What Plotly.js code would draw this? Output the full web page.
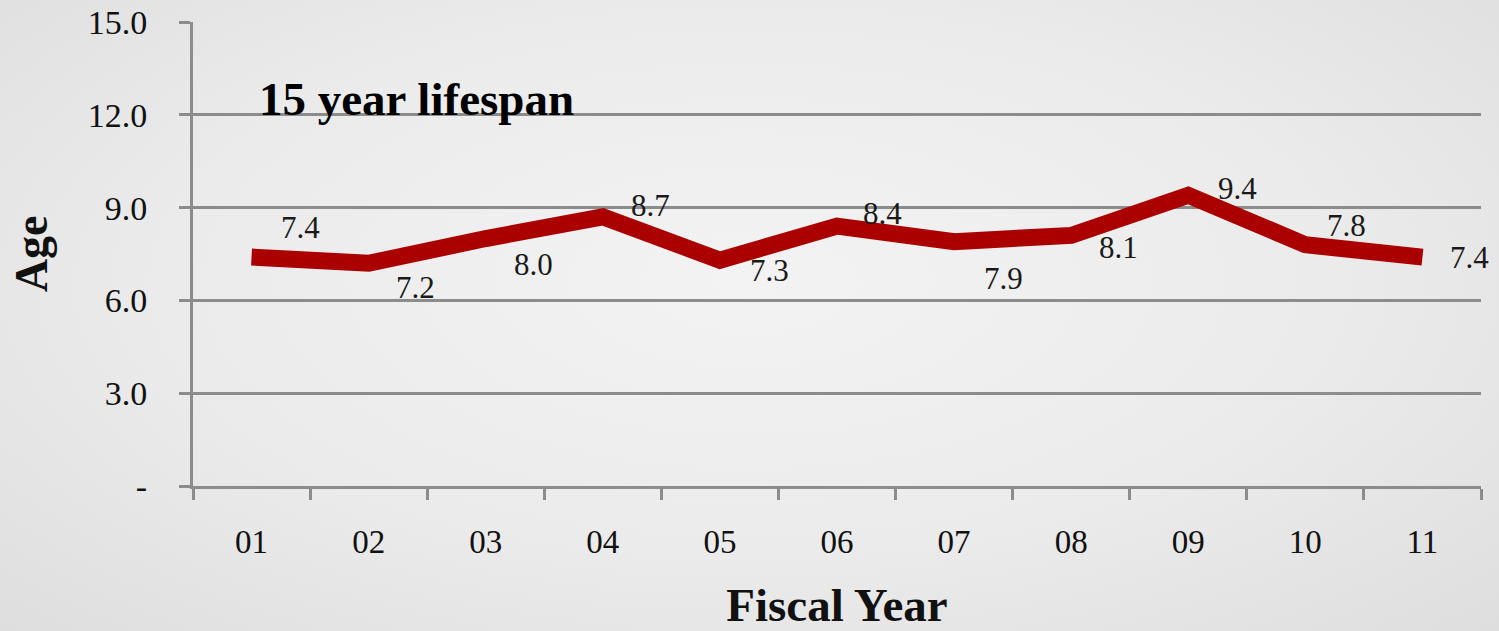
<!DOCTYPE html>
<html>
<head>
<meta charset="utf-8">
<script src="https://cdn.plot.ly/plotly-3.0.1.min.js"></script>
<style>
  html, body { margin: 0; padding: 0; width: 1499px; height: 631px; overflow: hidden;
    background: radial-gradient(ellipse at 50% 45%, #f3f3f3 0%, #ebebeb 55%, #dedede 100%); }
  #chart { width: 1499px; height: 631px; }
</style>
</head>
<body>
<div id="chart"></div>
<script>
const fiscalYears = ['01','02','03','04','05','06','07','08','09','10','11'];
const avgAge = [7.4, 7.2, 8.0, 8.7, 7.3, 8.4, 7.9, 8.1, 9.4, 7.8, 7.4];
const yTickVals = [0, 3, 6, 9, 12, 15];
const yTickText = ['-', '3.0', '6.0', '9.0', '12.0', '15.0'];
const noteText = '15 year lifespan';
// label offsets in pixels (dx, dy) relative to each point
const labelDx = [49, 47, 48, 48, 50, 45, 49, 47, 49, 41, 47];
const labelDy = [-30, 24, 26, -11, 10, -13, 37, 12, -7, -19, 0];

const serif = 'Liberation Serif, Times New Roman, serif';

const annotations = avgAge.map((v, i) => ({
  x: i, y: v, xref: 'x', yref: 'y',
  text: v.toFixed(1), showarrow: false,
  xshift: labelDx[i], yshift: -labelDy[i],
  font: { family: serif, size: 31, color: '#1a1a1a' }
}));
annotations.push({
  xref: 'paper', yref: 'paper', x: 0.05, y: 0.835, xanchor: 'left', yanchor: 'middle',
  text: '<b>' + noteText + '</b>', showarrow: false,
  font: { family: serif, size: 47, color: '#000' }
});

const trace = {
  x: fiscalYears, y: avgAge, type: 'scatter', mode: 'lines',
  line: { color: '#aa0000', width: 17, shape: 'linear' },
  hoverinfo: 'skip'
};

const layout = {
  width: 1499, height: 631,
  margin: { l: 193, r: 18, t: 22, b: 145 },
  paper_bgcolor: 'rgba(0,0,0,0)', plot_bgcolor: 'rgba(0,0,0,0)',
  showlegend: false,
  xaxis: {
    type: 'category', tickson: 'boundaries', range: [-0.5, 10.5],
    ticks: 'outside', ticklen: 11, tickwidth: 3, tickcolor: '#8c8c8c',
    showline: true, linecolor: '#8c8c8c', linewidth: 3,
    showgrid: false, zeroline: false,
    ticklabelstandoff: 24,
    tickfont: { family: serif, size: 33, color: '#111' },
    title: { text: '<b>Fiscal Year</b>', font: { family: serif, size: 47, color: '#111' }, standoff: 32 }
  },
  yaxis: {
    range: [0, 15], tickvals: yTickVals, ticktext: yTickText,
    ticks: 'outside', ticklen: 11, tickwidth: 3, tickcolor: '#8c8c8c',
    showline: true, linecolor: '#8c8c8c', linewidth: 3,
    showgrid: true, gridcolor: '#8c8c8c', gridwidth: 3, zeroline: false,
    ticklabelstandoff: 25,
    tickfont: { family: serif, size: 34, color: '#111' },
    title: { text: '<b>Age</b>', font: { family: serif, size: 46, color: '#111' }, standoff: 26 }
  },
  annotations: annotations
};

Plotly.newPlot('chart', [trace], layout, { displayModeBar: false, staticPlot: true });
</script>
</body>
</html>
